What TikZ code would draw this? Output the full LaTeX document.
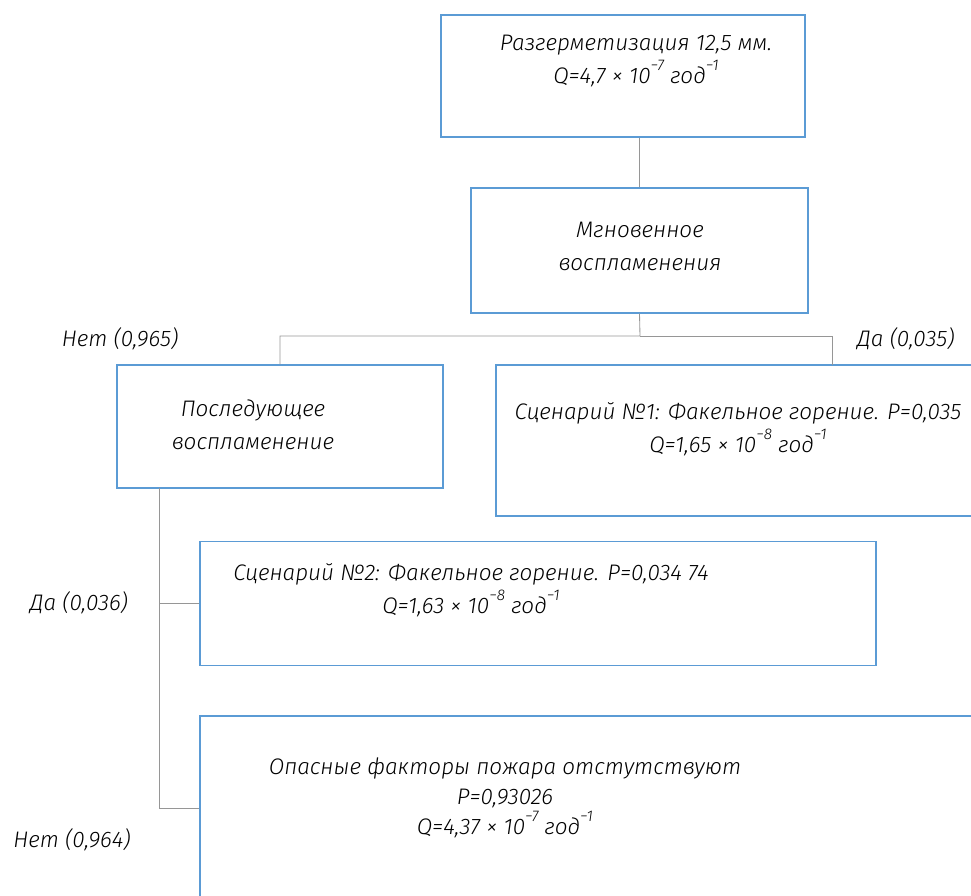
\documentclass[tikz,border=0pt]{standalone}
\usepackage{fontspec}
\setmainfont{Fira Sans}[UprightFont=* Light, ItalicFont=* Light Italic]
\usetikzlibrary{positioning}

\definecolor{boxblue}{RGB}{91,155,213}
\definecolor{linegray}{RGB}{150,150,150}
\newcommand\stp[1]{\raisebox{1.1ex}{\fontsize{11}{12}\selectfont #1}}

\begin{document}
\begin{tikzpicture}[x=0.025cm, y=-0.025cm,
    ebox/.style={rectangle, draw=boxblue, line width=0.9pt, inner sep=0pt},
    etext/.style={align=center, inner sep=0pt, font=\fontsize{16}{23.5}\selectfont\itshape},
    eline/.style={draw=linegray, line width=0.6pt}]

    \useasboundingbox (0,0) rectangle (971,895);
    \clip (0,0) rectangle (971,895);

    % boxes
    \node[ebox, minimum width=9.1cm, minimum height=3.05cm] (b1) at (623,76) {};
    \node[ebox, minimum width=8.425cm, minimum height=3.125cm] (b2) at (639.5,250.5) {};
    \node[ebox, minimum width=8.15cm, minimum height=3.075cm] (b3) at (280,426.5) {};
    \node[ebox, minimum width=12.225cm, minimum height=3.775cm] (b4) at (740.5,440.5) {};
    \node[ebox, minimum width=16.9cm, minimum height=3.1cm] (b5) at (538,603.5) {};
    \node[ebox, minimum width=20cm, minimum height=4.6cm] (b6) at (600,808) {};

    % texts
    \node[etext] (t1) at (636,61) {Разгерметизация 12,5 мм.\\Q=4,7 × 10\stp{−7} год\stp{−1}};
    \node[etext] (t2) at (640,246) {Мгновенное\\воспламенения};
    \node[etext] (t3) at (253,425) {Последующее\\воспламенение};
    \node[etext] (t4) at (738,429) {Сценарий №1: Факельное горение. P=0,035\\Q=1,65 × 10\stp{−8} год\stp{−1}};
    \node[etext] (t5) at (471,590) {Сценарий №2: Факельное горение. P=0,034 74\\Q=1,63 × 10\stp{−8} год\stp{−1}};
    \node[etext, font=\fontsize{16}{21.5}\selectfont\itshape] (t6) at (505,798) {Опасные факторы пожара отстутствуют\\P=0,93026\\Q=4,37 × 10\stp{−7} год\stp{−1}};

    % branch labels
    \node[etext] (lno1) at (120,339) {Нет (0,965)};
    \node[etext] (lyes1) at (906,339) {Да (0,035)};
    \node[etext] (lyes2) at (79,603) {Да (0,036)};
    \node[etext] (lno2) at (72,840) {Нет (0,964)};

    % connectors
    \coordinate (split) at (640,336);
    \coordinate (yesfoot) at (832,365);
    \coordinate (nofoot) at (159,488);
    \draw[eline] (b2.north |- b1.south) -- (b2.north);
    \draw[eline] (b2.south) -- (split) -| (b3.north);
    \draw[eline] (split) -| (yesfoot);
    \draw[eline] (nofoot) |- (b5.west);
    \draw[eline] (nofoot) |- (b6.west);
\end{tikzpicture}
\end{document}
